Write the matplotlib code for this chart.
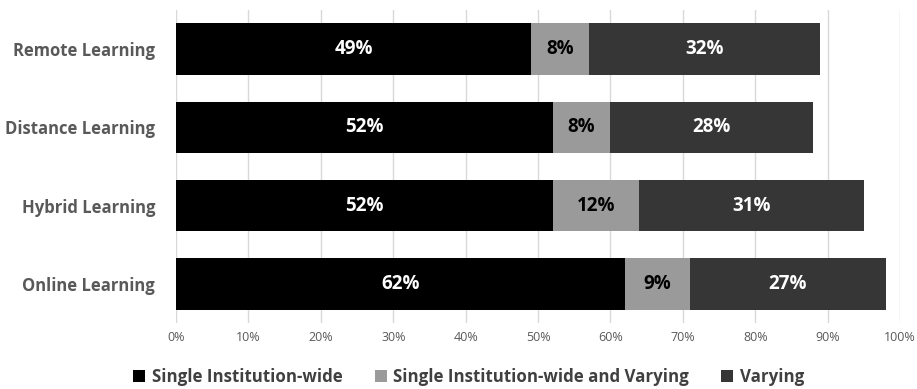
import matplotlib.pyplot as plt
from matplotlib.patches import Patch

categories = ["Remote Learning", "Distance Learning", "Hybrid Learning", "Online Learning"]
series_names = ["Single Institution-wide", "Single Institution-wide and Varying", "Varying"]
single_wide = [49, 52, 52, 62]
single_and_varying = [8, 8, 12, 9]
varying = [32, 28, 31, 27]
x_ticks = [0, 10, 20, 30, 40, 50, 60, 70, 80, 90, 100]

colors = ["#000000", "#9a9a9a", "#363636"]
text_colors = ["white", "black", "white"]

plt.rcParams['font.family'] = ['Open Sans', 'DejaVu Sans']

fig = plt.figure(figsize=(9.17, 3.89), dpi=100)
ax = fig.add_axes([0.192, 0.170, 0.7895, 0.804])

ypos = list(range(len(categories)))[::-1]
left = [0] * len(categories)
for vals, col, tcol in zip([single_wide, single_and_varying, varying], colors, text_colors):
    bars = ax.barh(ypos, vals, left=left, height=0.66, color=col, zorder=3)
    for b, v in zip(bars, vals):
        ax.text(b.get_x() + b.get_width() / 2, b.get_y() + b.get_height() / 2,
                f"{v}%", ha='center', va='center', color=tcol,
                fontsize=13.5, fontweight='bold', zorder=4)
    left = [l + v for l, v in zip(left, vals)]

ax.set_xlim(0, 100)
ax.set_ylim(-0.5, 3.5)
ax.set_xticks(x_ticks)
ax.set_xticklabels([f"{t}%" for t in x_ticks], fontsize=9, color='#595959')
ax.set_yticks(ypos)
ax.set_yticklabels(categories, fontsize=12, fontweight='bold', color='#595959')
ax.tick_params(axis='both', length=0)
ax.tick_params(axis='x', pad=6)
ax.tick_params(axis='y', pad=15)
ax.grid(axis='x', color='#d9d9d9', linewidth=1, zorder=0)
for s in ax.spines.values():
    s.set_visible(False)

handles = [Patch(facecolor=c, edgecolor='none') for c in colors]
fig.legend(handles, series_names, loc='center', bbox_to_anchor=(0.511, 0.03),
           ncol=3, frameon=False, handlelength=0.7, handleheight=0.7,
           handletextpad=0.4, columnspacing=1.9,
           prop={'size': 12.2, 'weight': 'bold'}, labelcolor='#404040')

fig.savefig("out.png", dpi=100)
